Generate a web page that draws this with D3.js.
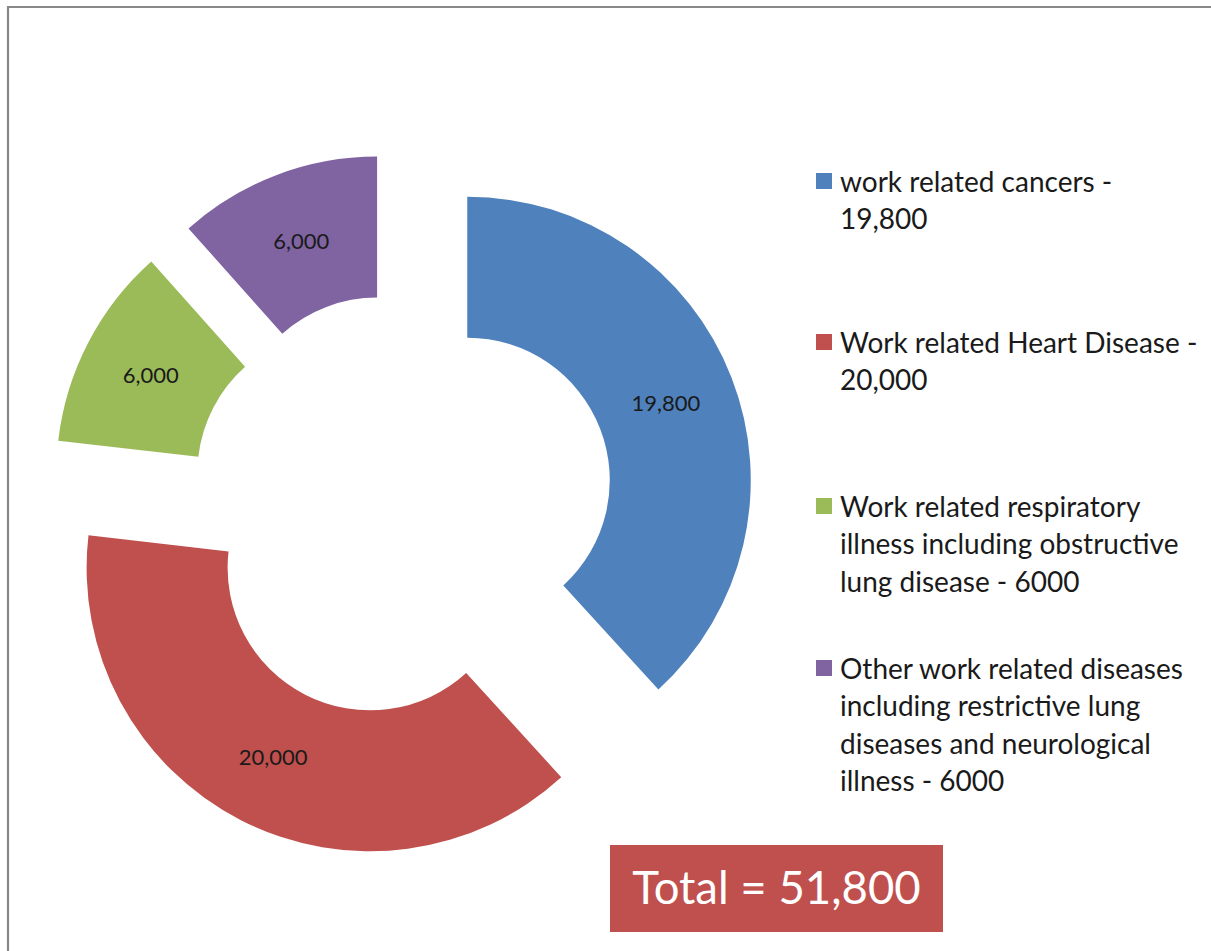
<!DOCTYPE html>
<html><head><meta charset="utf-8">
<script src="https://cdn.jsdelivr.net/npm/d3@7"></script>
<style>html,body{margin:0;padding:0;background:#fff;}svg{display:block;}</style>
</head><body>
<script>
const categories = ["work related cancers - 19,800","Work related Heart Disease - 20,000","Work related respiratory illness including obstructive lung disease - 6000","Other work related diseases including restrictive lung diseases and neurological illness - 6000"];
const legendLines = [["work related cancers -","19,800"],["Work related Heart Disease -","20,000"],["Work related respiratory","illness including obstructive","lung disease - 6000"],["Other work related diseases","including restrictive lung","diseases and neurological","illness - 6000"]];
const values = [19800, 20000, 6000, 6000];
const colors = ["#4F81BD","#C0504D","#9BBB59","#8064A2"];
const totalLabel = "Total = 51,800";

const W = 1211, H = 951;
const svg = d3.select("body").append("svg").attr("width", W).attr("height", H);
const font = "Lato, 'Liberation Sans', sans-serif";

// frame
svg.append("path").attr("d", `M8,${H+5} L8,7 L${W+5},7`).attr("fill","none").attr("stroke","#888").attr("stroke-width",2.2);

const cx = 402, cy = 505.5, R = 283.5, r = 142.5, explode = 70;
const pie = d3.pie().sort(null).value(d=>d)(values);
const arc = d3.arc().innerRadius(r).outerRadius(R);
const labelArc = d3.arc().innerRadius((r+R)/2).outerRadius((r+R)/2);
const fmt = d3.format(",");
const g = svg.append("g").attr("transform", `translate(${cx},${cy})`);
const slices = g.selectAll("g.slice").data(pie).enter().append("g")
  .attr("transform", d => { const a=(d.startAngle+d.endAngle)/2; return `translate(${Math.sin(a)*explode},${-Math.cos(a)*explode})`; });
slices.append("path").attr("d", arc).attr("fill", (d,i)=>colors[i]);
slices.append("text").attr("transform", d=>`translate(${labelArc.centroid(d)})`)
  .attr("text-anchor","middle").attr("dy","0.35em")
  .attr("font-family", font).attr("font-size", 22).attr("fill","#1a1a1a")
  .text(d=>fmt(d.data));

// legend
const legendTop = [182, 343, 507, 669];
const lineH = 37.5;
const lg = svg.append("g");
legendLines.forEach((lines,i)=>{
  lg.append("rect").attr("x",816).attr("y",legendTop[i]-9).attr("width",16).attr("height",16).attr("fill",colors[i]);
  lines.forEach((t,j)=>{
    lg.append("text").attr("x",840).attr("y",legendTop[i]+j*lineH).attr("dy","0.35em")
      .attr("font-family",font).attr("font-size",28).attr("fill","#1a1a1a").text(t);
  });
});

// total box
svg.append("rect").attr("x",610).attr("y",845).attr("width",333).attr("height",87).attr("fill","#C0504D");
svg.append("text").attr("x",776.5).attr("y",888.5).attr("dy","0.35em").attr("text-anchor","middle")
  .attr("font-family",font).attr("font-size",45.5).attr("fill","#fff").text(totalLabel);
</script>
</body></html>
